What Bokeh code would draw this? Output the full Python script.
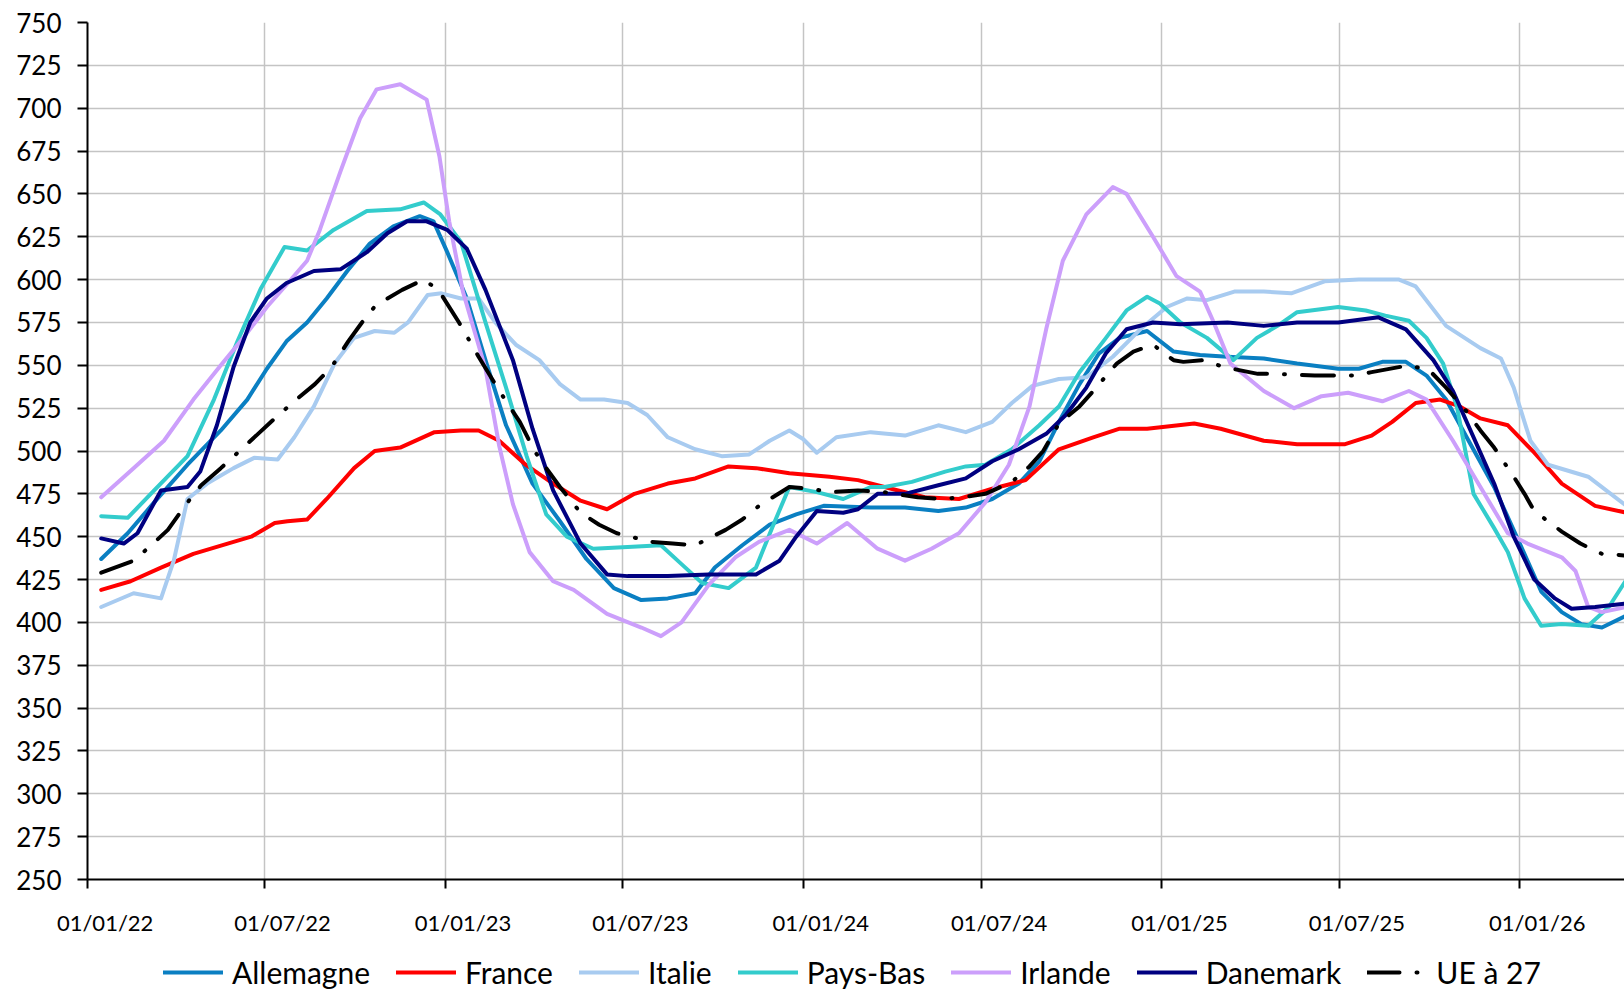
from datetime import date
from bokeh.plotting import figure
from bokeh.models import FixedTicker, Range1d, Legend, LegendItem
from bokeh.layouts import column
from bokeh.embed import file_html
from bokeh.resources import INLINE

# ---- data (x = days since 01/01/2022) ----
tick_dates = ["2022-01-01", "2022-07-01", "2023-01-01", "2023-07-01", "2024-01-01",
              "2024-07-01", "2025-01-01", "2025-07-01", "2026-01-01"]
tick_labels = ["01/01/22", "01/07/22", "01/01/23", "01/07/23", "01/01/24",
               "01/07/24", "01/01/25", "01/07/25", "01/01/26"]

allemagne_x = [14, 41, 68, 102, 136, 163, 183, 203, 224, 244, 265, 288, 312, 339, 353, 367, 387,
               406, 427, 454, 482, 509, 537, 565, 592, 620, 640, 668, 696, 723, 751, 799,
               834, 868, 896, 923, 950, 971, 991, 1012, 1032, 1053, 1081, 1108, 1135, 1163, 1200,
               1234, 1276, 1297, 1321, 1345, 1366, 1386, 1407, 1435, 1462, 1483, 1504, 1524, 1545, 1570]
allemagne_y = [437, 452, 470, 492, 512, 530, 548, 564, 575, 589, 605, 621, 631, 637, 634, 616, 589,
               553, 515, 481, 459, 437, 420, 413, 414, 417, 432, 445, 457, 463, 468, 467,
               467, 465, 467, 472, 481, 494, 517, 539, 557, 566, 570, 558, 556, 555, 554,
               551, 548, 548, 552, 552, 544, 530, 508, 479, 445, 418, 406, 399, 397, 404]

france_x = [14, 44, 75, 108, 143, 167, 191, 204, 224, 244, 272, 293, 319, 354, 381, 399,
            420, 447, 475, 503, 530, 558, 592, 620, 654, 682, 716, 757, 786,
            820, 854, 889, 923, 957, 991, 1026, 1053, 1081, 1129, 1156, 1200,
            1234, 1283, 1310, 1331, 1355, 1380, 1400, 1421, 1449, 1476, 1504, 1538, 1570]
france_y = [419, 424, 432, 440, 446, 450, 458, 459, 460, 472, 490, 500, 502, 511, 512, 512,
            506, 492, 481, 471, 466, 475, 481, 484, 491, 490, 487, 485, 483,
            478, 473, 472, 478, 483, 501, 508, 513, 513, 516, 513, 506,
            504, 504, 509, 517, 528, 530, 526, 519, 515, 499, 481, 468, 464]

italie_x = [14, 47, 75, 88, 102, 122, 149, 170, 194, 211, 231, 252, 272, 293, 313, 327, 347, 361, 381,
            399, 416, 437, 461, 482, 503, 527, 551, 571, 592, 620, 647, 675, 696, 716, 730, 744, 764, 799,
            834, 868, 896, 923, 943, 964, 991, 1019, 1046, 1074, 1101, 1122, 1142, 1170, 1200,
            1228, 1262, 1297, 1338, 1355, 1386, 1421, 1442, 1455, 1472, 1490, 1531, 1570]
italie_y = [409, 417, 414, 436, 472, 481, 490, 496, 495, 508, 526, 551, 566, 570, 569, 575, 591, 592, 589,
            589, 575, 562, 553, 539, 530, 530, 528, 521, 508, 501, 497, 498, 506, 512, 507, 499, 508, 511,
            509, 515, 511, 517, 528, 538, 542, 543, 555, 571, 584, 589, 588, 593, 593,
            592, 599, 600, 600, 596, 573, 560, 554, 537, 506, 492, 485, 468]

paysbas_x = [14, 41, 68, 102, 129, 153, 177, 201, 224, 251, 285, 319, 343, 360, 381,
             406, 427, 448, 468, 489, 516, 551, 585, 606, 627, 654, 682, 699, 716, 744, 771, 799,
             813, 841, 875, 896, 916, 943, 971, 991, 1012, 1039, 1060, 1081, 1094, 1115, 1142, 1169,
             1193, 1214, 1234, 1276, 1304, 1324, 1348, 1366, 1383, 1397, 1414, 1435, 1449, 1466,
             1483, 1504, 1531, 1552, 1570]
paysbas_y = [462, 461, 477, 497, 530, 564, 595, 619, 617, 629, 640, 641, 645, 638, 622,
             575, 537, 497, 463, 450, 443, 444, 445, 434, 423, 420, 432, 456, 479, 476, 472, 479,
             479, 482, 488, 491, 492, 501, 515, 526, 546, 566, 582, 590, 586, 575, 566, 553,
             566, 573, 581, 584, 582, 579, 576, 566, 551, 526, 475, 455, 441, 414,
             398, 399, 398, 409, 425]

irlande_x = [14, 47, 78, 108, 136, 159, 183, 203, 224, 237, 258, 278, 295, 319, 346, 359, 369, 383,
             406, 420, 434, 451, 475, 496, 530, 565, 585, 606, 634, 661, 685, 716, 744, 775,
             806, 834, 861, 889, 916, 940, 961, 978, 995, 1019, 1046, 1060, 1087, 1111, 1135, 1149, 1166,
             1200, 1231, 1259, 1286, 1321, 1348, 1366, 1393, 1421, 1449, 1469, 1504, 1518, 1531, 1545, 1570]
irlande_y = [473, 490, 506, 530, 550, 566, 584, 597, 611, 629, 663, 694, 711, 714, 705, 672, 634, 593,
             548, 503, 469, 441, 424, 419, 405, 397, 392, 400, 422, 438, 447, 454, 446, 458,
             443, 436, 443, 452, 470, 492, 526, 571, 611, 638, 654, 650, 625, 602, 593, 575, 551,
             535, 525, 532, 534, 529, 535, 530, 506, 479, 452, 446, 438, 430, 409, 406, 409]

danemark_x = [14, 37, 51, 75, 102, 115, 132, 149, 166, 183, 203, 231, 258, 285, 306, 326, 346, 367, 387,
              406, 434, 454, 475, 503, 530, 551, 592, 634, 682, 706, 723, 744, 771, 786,
              806, 834, 868, 896, 923, 950, 978, 998, 1019, 1039, 1060, 1087, 1115, 1163,
              1200, 1234, 1276, 1317, 1345, 1373, 1393, 1414, 1435, 1455, 1476, 1497, 1514, 1538, 1570]
danemark_y = [449, 446, 452, 477, 479, 488, 515, 549, 575, 589, 598, 605, 606, 616, 627, 634, 634, 629, 618,
              594, 553, 513, 477, 446, 428, 427, 427, 428, 428, 436, 450, 465, 464, 466,
              475, 475, 480, 484, 494, 501, 510, 521, 537, 557, 571, 575, 574, 575,
              573, 575, 575, 578, 571, 553, 535, 508, 481, 450, 425, 414, 408, 409, 411]

ue_x = [14, 47, 65, 82, 102, 116, 136, 157, 174, 191, 215, 232, 249, 266, 280, 294, 321, 343, 358, 379,
        399, 416, 427, 441, 456, 468, 482, 503, 522, 540, 575, 597, 620, 651, 668, 685, 716, 737, 758, 786,
        813, 847, 872, 892, 916, 943, 961, 975, 991, 1012, 1026, 1050, 1067, 1087, 1108, 1118, 1139, 1159,
        1194, 1212, 1252, 1291, 1310, 1348, 1369, 1386, 1407, 1421, 1435, 1455, 1466, 1476, 1504, 1523,
        1545, 1570]
ue_y = [429, 436, 445, 454, 470, 480, 490, 501, 510, 519, 531, 539, 549, 564, 575, 585, 594, 600, 594, 575,
        555, 539, 529, 517, 500, 490, 479, 464, 457, 452, 447, 446, 445, 454, 460, 468, 479, 478, 476, 477,
        476, 473, 472, 473, 475, 482, 491, 500, 516, 526, 535, 551, 558, 562, 553, 552, 553, 549,
        545, 545, 544, 544, 546, 550, 547, 537, 523, 512, 502, 485, 475, 465, 453, 446,
        440, 439]

series = [
    ("Allemagne", allemagne_x, allemagne_y, "#0A7FC2", "solid"),
    ("France", france_x, france_y, "#FF0000", "solid"),
    ("Italie", italie_x, italie_y, "#A8CBF0", "solid"),
    ("Pays-Bas", paysbas_x, paysbas_y, "#33CCCC", "solid"),
    ("Irlande", irlande_x, irlande_y, "#CC9FFB", "solid"),
    ("Danemark", danemark_x, danemark_y, "#000080", "solid"),
    ("UE à 27", ue_x, ue_y, "#000000", "32 17 1 17"),
]

origin = date(2022, 1, 1)
tick_days = [(date.fromisoformat(d) - origin).days for d in tick_dates]
label_days = [d + 18 for d in tick_days]

FONT = "Lato"

p = figure(width=1624, height=940, output_backend="svg", toolbar_location=None,
           x_range=Range1d(0, 1568), y_range=Range1d(250, 750),
           min_border_left=87, min_border_right=0, min_border_top=22, min_border_bottom=61)
p.outline_line_color = None
p.background_fill_color = "white"
p.border_fill_color = "white"

# legend strip below the chart (its renderers hold the chart's series too, outside its view)
pl = figure(width=1624, height=50, output_backend="svg", toolbar_location=None,
            x_axis_location=None, y_axis_location=None,
            x_range=Range1d(-2000, -1000), y_range=Range1d(0, 1),
            min_border=0)
pl.outline_line_color = None
pl.xgrid.visible = False
pl.ygrid.visible = False
pl.border_fill_color = "white"
pl.background_fill_color = "white"

items = []
for name, xs, ys, color, dash in series:
    p.line(xs, ys, line_color=color, line_width=4, line_dash=dash,
           line_join="round", line_cap="round")
    rl = pl.line(xs, ys, line_color=color, line_width=4, line_dash=dash, line_cap="round")
    items.append(LegendItem(label=name, renderers=[rl]))

# y axis
p.yaxis.ticker = FixedTicker(ticks=list(range(250, 751, 25)))
p.yaxis.axis_line_color = "black"
p.yaxis.axis_line_width = 2
p.yaxis.major_tick_line_color = "black"
p.yaxis.major_tick_line_width = 2
p.yaxis.major_tick_out = 10
p.yaxis.major_tick_in = 0
p.yaxis.minor_tick_line_color = None
p.yaxis.major_label_standoff = 16
p.yaxis.major_label_text_font = FONT
p.yaxis.major_label_text_font_size = "26px"
p.yaxis.major_label_text_color = "black"

# x axis: tick marks at dates (minor), labels shifted as in the original
p.xaxis.ticker = FixedTicker(ticks=label_days, minor_ticks=tick_days)
p.xaxis.major_label_overrides = {d: lab for d, lab in zip(label_days, tick_labels)}
p.xaxis.axis_line_color = "black"
p.xaxis.axis_line_width = 2
p.xaxis.major_tick_line_color = None
p.xaxis.minor_tick_line_color = "black"
p.xaxis.minor_tick_line_width = 2
p.xaxis.minor_tick_out = 9
p.xaxis.minor_tick_in = 0
p.xaxis.major_label_standoff = 20
p.xaxis.major_label_text_font = FONT
p.xaxis.major_label_text_font_size = "22px"
p.xaxis.major_label_text_color = "black"

# grids
p.xgrid.ticker = FixedTicker(ticks=tick_days)
p.xgrid.grid_line_color = "#C4C4C4"
p.xgrid.grid_line_width = 1.5
p.ygrid.grid_line_color = "#C4C4C4"
p.ygrid.grid_line_width = 1.5

# legend
lg = Legend(items=items, orientation="horizontal", location=(76, 0))
lg.label_text_font = FONT
lg.label_text_font_size = "30px"
lg.label_text_color = "black"
lg.glyph_width = 60
lg.glyph_height = 20
lg.label_standoff = 9
lg.spacing = 26
lg.padding = 0
lg.margin = 0
lg.border_line_color = None
lg.background_fill_alpha = 0
pl.add_layout(lg, "center")

open("out.html", "w").write(file_html(column(p, pl, spacing=0), INLINE))
